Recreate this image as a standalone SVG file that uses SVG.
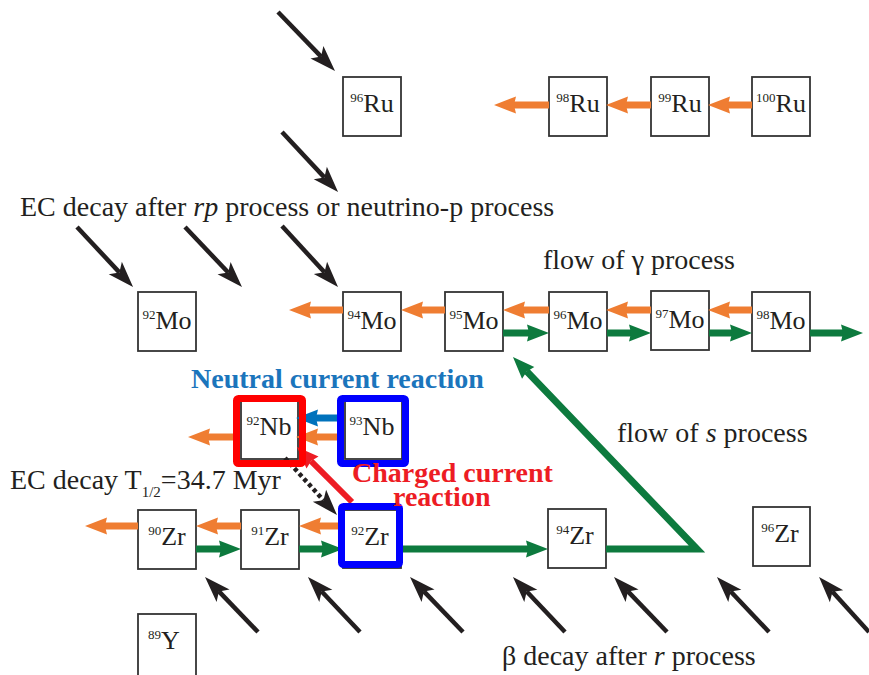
<svg xmlns="http://www.w3.org/2000/svg" width="869" height="675" viewBox="0 0 869 675">
<style>
.box{fill:none;stroke:#333;stroke-width:1.8}
.lbl{font-family:"Liberation Serif","Times New Roman",serif;font-size:26px;fill:#231f20;text-anchor:middle}
.sup{font-size:13px}
.t{font-family:"Liberation Serif","Times New Roman",serif;font-size:28px;fill:#231f20}
.b{font-family:"Liberation Serif","Times New Roman",serif;font-size:28px;font-weight:bold}
.or{stroke:#ef7d32;stroke-width:7;fill:none}
.gr{stroke:#0d7a3e;stroke-width:7;fill:none}
.bk{stroke:#231f20;stroke-width:4.5;fill:none}
</style>
<defs>
<marker id="ao" markerUnits="userSpaceOnUse" markerWidth="24" markerHeight="20" refX="2" refY="10" orient="auto" overflow="visible"><path d="M0,1.5 L22,10 L0,18.5 L2,10 z" fill="#ef7d32"/></marker>
<marker id="ag" markerUnits="userSpaceOnUse" markerWidth="24" markerHeight="20" refX="2" refY="10" orient="auto" overflow="visible"><path d="M0,1.5 L22,10 L0,18.5 L2,10 z" fill="#0d7a3e"/></marker>
<marker id="ab" markerUnits="userSpaceOnUse" markerWidth="24" markerHeight="20" refX="2" refY="10" orient="auto" overflow="visible"><path d="M0,1.5 L22,10 L0,18.5 L2,10 z" fill="#0072bc"/></marker>
<marker id="ar" markerUnits="userSpaceOnUse" markerWidth="24" markerHeight="20" refX="2" refY="10" orient="auto" overflow="visible"><path d="M0,1.5 L22,10 L0,18.5 L2,10 z" fill="#ed1c24"/></marker>
<marker id="ak" markerUnits="userSpaceOnUse" markerWidth="26" markerHeight="20" refX="6" refY="10" orient="auto" overflow="visible"><path d="M0,1 L26,10 L0,19 L6,10 z" fill="#231f20"/></marker>
</defs>
<rect width="869" height="675" fill="#fff"/>

<g id="nodes" font-family="Liberation Serif, Times New Roman, serif">
<g id="ru96"><rect class="box" x="343" y="77" width="58" height="59"/><text class="lbl" x="372" y="112"><tspan class="sup" dy="-10">96</tspan><tspan dy="10">Ru</tspan></text></g>
<g id="ru98"><rect class="box" x="549" y="77" width="58" height="59"/><text class="lbl" x="578" y="112"><tspan class="sup" dy="-10">98</tspan><tspan dy="10">Ru</tspan></text></g>
<g id="ru99"><rect class="box" x="651" y="77" width="58" height="59"/><text class="lbl" x="680" y="112"><tspan class="sup" dy="-10">99</tspan><tspan dy="10">Ru</tspan></text></g>
<g id="ru100"><rect class="box" x="752" y="77" width="58" height="59"/><text class="lbl" x="781" y="112"><tspan class="sup" dy="-10">100</tspan><tspan dy="10">Ru</tspan></text></g>
<g id="mo92"><rect class="box" x="138" y="292" width="58" height="59"/><text class="lbl" x="167" y="329"><tspan class="sup" dy="-10">92</tspan><tspan dy="10">Mo</tspan></text></g>
<g id="mo94"><rect class="box" x="343" y="292" width="58" height="59"/><text class="lbl" x="372" y="329"><tspan class="sup" dy="-10">94</tspan><tspan dy="10">Mo</tspan></text></g>
<g id="mo95"><rect class="box" x="445" y="292" width="58" height="59"/><text class="lbl" x="474" y="329"><tspan class="sup" dy="-10">95</tspan><tspan dy="10">Mo</tspan></text></g>
<g id="mo96"><rect class="box" x="549" y="292" width="58" height="59"/><text class="lbl" x="578" y="329"><tspan class="sup" dy="-10">96</tspan><tspan dy="10">Mo</tspan></text></g>
<g id="mo97"><rect class="box" x="651" y="291" width="58" height="59"/><text class="lbl" x="680" y="328"><tspan class="sup" dy="-10">97</tspan><tspan dy="10">Mo</tspan></text></g>
<g id="mo98"><rect class="box" x="752" y="292" width="58" height="59"/><text class="lbl" x="781" y="329"><tspan class="sup" dy="-10">98</tspan><tspan dy="10">Mo</tspan></text></g>
<g id="nb92"><rect class="box" x="241" y="401" width="57" height="58"/><text class="lbl" x="269" y="435"><tspan class="sup" dy="-10">92</tspan><tspan dy="10">Nb</tspan></text></g>
<g id="nb93"><rect class="box" x="345" y="401" width="57" height="58"/><text class="lbl" x="372" y="435"><tspan class="sup" dy="-10">93</tspan><tspan dy="10">Nb</tspan></text></g>
<g id="zr90"><rect class="box" x="138" y="510" width="58" height="59"/><text class="lbl" x="167" y="545"><tspan class="sup" dy="-10">90</tspan><tspan dy="10">Zr</tspan></text></g>
<g id="zr91"><rect class="box" x="241" y="510" width="58" height="59"/><text class="lbl" x="270" y="545"><tspan class="sup" dy="-10">91</tspan><tspan dy="10">Zr</tspan></text></g>
<g id="zr92"><rect class="box" x="343" y="510" width="58" height="58"/><text class="lbl" x="370" y="545"><tspan class="sup" dy="-10">92</tspan><tspan dy="10">Zr</tspan></text></g>
<g id="zr94"><rect class="box" x="548" y="509" width="58" height="59"/><text class="lbl" x="575" y="544"><tspan class="sup" dy="-10">94</tspan><tspan dy="10">Zr</tspan></text></g>
<g id="zr96"><rect class="box" x="753" y="507" width="57" height="59"/><text class="lbl" x="780" y="542"><tspan class="sup" dy="-10">96</tspan><tspan dy="10">Zr</tspan></text></g>
<g id="y89"><rect class="box" x="138" y="614" width="58" height="64"/><text class="lbl" x="164" y="649"><tspan class="sup" dy="-10">89</tspan><tspan dy="10">Y</tspan></text></g>
</g>

<g id="connectors">
<path class="or" marker-end="url(#ao)" d="M752,105 L728,105"/>
<path class="or" marker-end="url(#ao)" d="M651,105 L626,105"/>
<path class="or" marker-end="url(#ao)" d="M549,105 L514,105"/>
<path class="or" marker-end="url(#ao)" d="M752,310 L728,310"/>
<path class="or" marker-end="url(#ao)" d="M651,310 L626,310"/>
<path class="or" marker-end="url(#ao)" d="M549,310 L523,310"/>
<path class="or" marker-end="url(#ao)" d="M445,310 L421,310"/>
<path class="or" marker-end="url(#ao)" d="M343,310 L309,310"/>
<path class="gr" marker-end="url(#ag)" d="M503,333 L529,333"/>
<path class="gr" marker-end="url(#ag)" d="M607,333 L631,333"/>
<path class="gr" marker-end="url(#ag)" d="M709,333 L732,333"/>
<path class="gr" marker-end="url(#ag)" d="M810,333 L843,333"/>
<path class="or" marker-end="url(#ao)" d="M343,526 L319,526"/>
<path class="or" marker-end="url(#ao)" d="M241,526 L216,526"/>
<path class="or" marker-end="url(#ao)" d="M138,526 L105,526"/>
<path class="gr" marker-end="url(#ag)" d="M196,549 L221,549"/>
<path class="gr" marker-end="url(#ag)" d="M299,549 L323,549"/>
<path class="gr" marker-end="url(#ag)" d="M403,549 L528,549"/>
<path class="gr" stroke-width="6" stroke-linejoin="miter" marker-end="url(#ag)" d="M606,549 L697,549 L526.8,371.4"/>
<path class="or" marker-end="url(#ao)" d="M338,437 L316,437"/>
<path class="or" marker-end="url(#ao)" d="M233,437 L208,437"/>
<path stroke="#0072bc" stroke-width="7" fill="none" marker-end="url(#ab)" d="M338,418 L316,418"/>
<path stroke="#ed1c24" stroke-width="6" fill="none" marker-end="url(#ar)" d="M352,502 L311.1,461.1"/>
<path class="bk" stroke-width="5" stroke-dasharray="4 3" marker-end="url(#ak)" d="M285,458 L323.5,500.2"/>
<path class="bk" marker-end="url(#ak)" d="M278,12 L321.1,56.6"/>
<path class="bk" marker-end="url(#ak)" d="M282,132 L324.4,177.4"/>
<path class="bk" marker-end="url(#ak)" d="M77,227 L119.4,272.4"/>
<path class="bk" marker-end="url(#ak)" d="M185,227 L228.2,272.5"/>
<path class="bk" marker-end="url(#ak)" d="M282,226 L324.5,272.3"/>
<path class="bk" marker-end="url(#ak)" d="M258,632 L218.9,591.4"/>
<path class="bk" marker-end="url(#ak)" d="M360,632 L321.7,591.5"/>
<path class="bk" marker-end="url(#ak)" d="M463,632 L423.9,591.4"/>
<path class="bk" marker-end="url(#ak)" d="M565,632 L526.7,591.5"/>
<path class="bk" marker-end="url(#ak)" d="M667,632 L627.9,591.4"/>
<path class="bk" marker-end="url(#ak)" d="M769,632 L730.7,591.5"/>
<path class="bk" marker-end="url(#ak)" d="M869,632 L832.5,591.8"/>
</g>

<g id="highlights" fill="none" stroke-width="7">
<rect x="236.5" y="398.5" width="66" height="65" rx="2" stroke="#ff0000"/>
<rect x="340.5" y="398.5" width="65" height="65" rx="2" stroke="#0000ff"/>
<rect x="341.5" y="506.5" width="58" height="58" rx="2" stroke="#0000ff"/>
</g>

<g id="labels">
<text class="t" x="20" y="216">EC decay after <tspan font-style="italic">rp</tspan> process or neutrino-p process</text>
<text class="t" x="543" y="269">flow of <tspan>γ</tspan> process</text>
<text class="b" x="191" y="388" fill="#1b75bc">Neutral current reaction</text>
<text class="t" x="617" y="442">flow of <tspan font-style="italic">s</tspan> process</text>
<text class="b" x="352" y="482" fill="#ed1c24">Charged current</text>
<text class="b" x="393" y="506" fill="#ed1c24">reaction</text>
<text class="t" x="10" y="489">EC decay T<tspan font-size="15" dy="8">1/2</tspan><tspan dy="-8">=34.7 Myr</tspan></text>
<text class="t" x="502" y="665">β decay after <tspan font-style="italic">r</tspan> process</text>
</g>
</svg>
